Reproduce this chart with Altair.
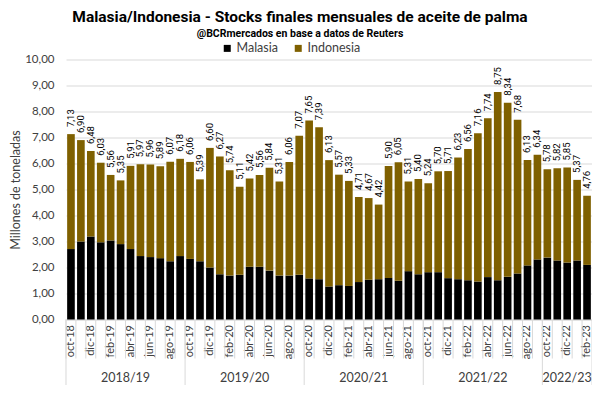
import altair as alt
import pandas as pd

months = [
    'oct-18', 'nov-18', 'dic-18', 'ene-19', 'feb-19', 'mar-19', 'abr-19', 'may-19', 'jun-19', 'jul-19', 'ago-19', 'sep-19',
    'oct-19', 'nov-19', 'dic-19', 'ene-20', 'feb-20', 'mar-20', 'abr-20', 'may-20', 'jun-20', 'jul-20', 'ago-20', 'sep-20',
    'oct-20', 'nov-20', 'dic-20', 'ene-21', 'feb-21', 'mar-21', 'abr-21', 'may-21', 'jun-21', 'jul-21', 'ago-21', 'sep-21',
    'oct-21', 'nov-21', 'dic-21', 'ene-22', 'feb-22', 'mar-22', 'abr-22', 'may-22', 'jun-22', 'jul-22', 'ago-22', 'sep-22',
    'oct-22', 'nov-22', 'dic-22', 'ene-23', 'feb-23',
]

totals = [
    7.13, 6.90, 6.48, 6.03, 5.56, 5.35, 5.91, 5.97, 5.96, 5.89, 6.07, 6.18,
    6.06, 5.39, 6.60, 6.27, 5.74, 5.11, 5.42, 5.56, 5.84, 5.31, 6.06, 7.07,
    7.65, 7.39, 6.13, 5.57, 5.33, 4.71, 4.67, 4.42, 5.90, 6.05, 5.31, 5.40,
    5.24, 5.70, 5.71, 6.23, 6.56, 7.16, 7.74, 8.75, 8.34, 7.68, 6.13, 6.34,
    5.78, 5.82, 5.85, 5.37, 4.76,
]

malasia = [
    2.71, 3.00, 3.19, 2.97, 3.04, 2.90, 2.71, 2.44, 2.40, 2.36, 2.24, 2.44,
    2.33, 2.24, 2.00, 1.74, 1.69, 1.72, 2.03, 2.03, 1.88, 1.69, 1.69, 1.72,
    1.58, 1.55, 1.27, 1.32, 1.29, 1.44, 1.53, 1.55, 1.60, 1.49, 1.86, 1.74,
    1.82, 1.82, 1.59, 1.55, 1.51, 1.46, 1.63, 1.51, 1.64, 1.77, 2.08, 2.31,
    2.38, 2.27, 2.19, 2.27, 2.10,
]

indonesia = [
    4.42, 3.90, 3.29, 3.06, 2.52, 2.45, 3.20, 3.53, 3.56, 3.53, 3.83, 3.74,
    3.73, 3.15, 4.60, 4.53, 4.05, 3.39, 3.39, 3.53, 3.96, 3.62, 4.37, 5.35,
    6.07, 5.84, 4.86, 4.25, 4.04, 3.27, 3.14, 2.87, 4.30, 4.56, 3.45, 3.66,
    3.42, 3.88, 4.12, 4.68, 5.05, 5.70, 6.11, 7.24, 6.70, 5.91, 4.05, 4.03,
    3.40, 3.55, 3.66, 3.10, 2.66,
]

seasons = ['2018/19', '2019/20', '2020/21', '2021/22', '2022/23']
season_start = ['oct-18', 'oct-19', 'oct-20', 'oct-21', 'oct-22']
season_mid12 = ['abr-19', 'abr-20', 'abr-21', 'abr-22']
season_mid_last = ['dic-22']

y_ticks = [0, 1, 2, 3, 4, 5, 6, 7, 8, 9, 10]

series = ['Malasia', 'Indonesia']
colors = ['#000000', '#7f6000']

TITLE = 'Malasia/Indonesia - Stocks finales mensuales de aceite de palma'
SUBTITLE = '@BCRmercados en base a datos de Reuters'

FONT = 'Lato, sans-serif'
NARROW = 'Roboto, sans-serif'

rows = []
for m, a, b in zip(months, malasia, indonesia):
    rows.append({'month': m, 'serie': 'Malasia', 'value': a, 'ord': 0})
    rows.append({'month': m, 'serie': 'Indonesia', 'value': b, 'ord': 1})
df = pd.DataFrame(rows)

df_tot = pd.DataFrame({
    'month': months,
    'value': totals,
    'lab': [f'{t:.2f}'.replace('.', ',') for t in totals],
})

shown = months[::2]
label_expr = "indexof([" + ",".join(f"'{m}'" for m in shown) + "], datum.value) >= 0 ? datum.value : ''"

W, H = 526, 260
xscale = alt.Scale(paddingInner=0.23, paddingOuter=0.115)
yscale = alt.Scale(domain=[0, 10], nice=False)

x_axis = alt.Axis(
    labelExpr=label_expr, labelAngle=270, labelFont=FONT, labelFontSize=11,
    labelColor='#404040', labelPadding=5, ticks=False, domain=True,
    domainColor='#d9d9d9', grid=False, labelOverlap=False,
)

y_axis = alt.Axis(
    values=y_ticks, tickCount=11, labelExpr="replace(format(datum.value, '.2f'), '.', ',')",
    labelOverlap=False, labelFlush=False,
    labelFont=FONT, labelFontSize=11.5, labelColor='#404040', labelPadding=12,
    ticks=False, domain=False, gridColor='#d9d9d9',
    title='Millones de toneladas', titleFont=FONT, titleFontSize=12.5,
    titleFontWeight='normal', titleColor='#404040', titleAngle=270,
    titleX=-51, titleY=H / 2, titleAlign='center', titleBaseline='middle',
)

def X(**kw):
    return alt.X('month:N', sort=months, scale=xscale, title=None, axis=x_axis, **kw)

def Y(field, **kw):
    return alt.Y(field, scale=yscale, axis=y_axis, title='Millones de toneladas', **kw)

bars = alt.Chart(df).mark_bar().encode(
    x=X(),
    y=Y('value:Q', stack='zero'),
    color=alt.Color('serie:N', scale=alt.Scale(domain=series, range=colors),
                    legend=alt.Legend(
                        title=None, orient='none', direction='horizontal',
                        legendX=155, legendY=-17.5, symbolType='square', symbolSize=49,
                        symbolStrokeWidth=0, labelFont=FONT, labelFontSize=12.5,
                        labelColor='#404040', labelOffset=3, columnPadding=14, padding=0,
                    )),
    order=alt.Order('ord:Q'),
)

totals_txt = alt.Chart(df_tot).mark_text(
    angle=270, align='left', baseline='middle', dx=7, font=NARROW, fontSize=9.5, color='#000000'
).encode(x=X(), y=Y('value:Q'), text='lab:N')

month_rules = alt.Chart(pd.DataFrame({'month': months})).mark_rule(
    color='#d9d9d9', xOffset=-1.15
).encode(x=X(bandPosition=0), y=alt.value(H), y2=alt.value(H + 39))

end_rule = alt.Chart(pd.DataFrame({'month': months[-1:]})).mark_rule(
    color='#d9d9d9', xOffset=1.15
).encode(x=X(bandPosition=1), y=alt.value(H), y2=alt.value(H + 66))

season_rules = alt.Chart(pd.DataFrame({'month': season_start})).mark_rule(
    color='#d9d9d9', xOffset=-1.15
).encode(x=X(bandPosition=0), y=alt.value(H), y2=alt.value(H + 66))

season_lab12 = alt.Chart(pd.DataFrame({'month': season_mid12, 'season': seasons[:4]})).mark_text(
    font=FONT, fontSize=12.5, color='#404040', baseline='middle', xOffset=-1.15
).encode(x=X(bandPosition=0), y=alt.value(H + 58.5), text='season:N')

season_lab_last = alt.Chart(pd.DataFrame({'month': season_mid_last, 'season': seasons[4:]})).mark_text(
    font=FONT, fontSize=12.5, color='#404040', baseline='middle'
).encode(x=X(bandPosition=0.5), y=alt.value(H + 58.5), text='season:N')

title_txt = alt.Chart(pd.DataFrame({'t': [TITLE]})).mark_text(
    font=NARROW, fontSize=15.5, fontWeight='bold', color='#000000', baseline='middle', align='center'
).encode(x=alt.value(234), y=alt.value(-42.5), text='t:N')

subtitle_txt = alt.Chart(pd.DataFrame({'t': [SUBTITLE]})).mark_text(
    font=NARROW, fontSize=10.5, fontWeight='bold', color='#000000', baseline='middle', align='center'
).encode(x=alt.value(234), y=alt.value(-26), text='t:N')

chart = alt.layer(
    bars, totals_txt, month_rules, end_rule, season_rules, season_lab12, season_lab_last,
    title_txt, subtitle_txt,
).properties(
    width=W, height=H,
    autosize=alt.AutoSizeParams(type='none'),
    padding={'left': 58, 'top': 51.5, 'right': 0, 'bottom': 65.5},
    background='white',
).configure_view(stroke=None)

chart.save('out.html', embed_options={'renderer': 'svg', 'actions': False})
